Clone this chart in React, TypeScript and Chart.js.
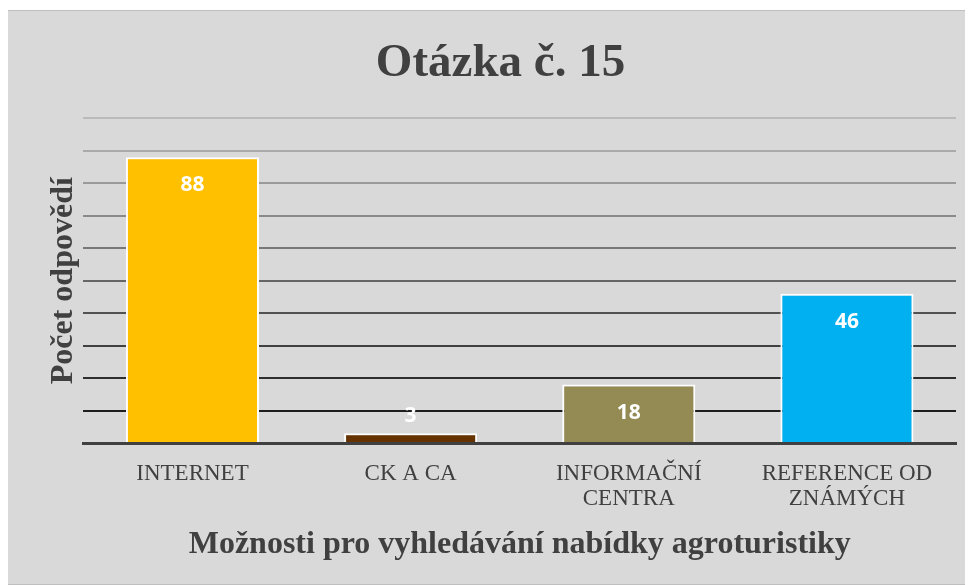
import React, { useEffect, useRef } from "react";
import { Chart, registerables } from "chart.js";

Chart.register(...registerables);

const categories: string[][] = [
  ["INTERNET"],
  ["CK A CA"],
  ["INFORMAČNÍ", "CENTRA"],
  ["REFERENCE OD", "ZNÁMÝCH"],
];
const values: number[] = [88, 3, 18, 46];
const barColors: string[] = ["#ffc000", "#663300", "#948a54", "#00b0f0"];
const chartTitle = "Otázka č. 15";
const yTitle = "Počet odpovědí";
const xTitle = "Možnosti pro vyhledávání nabídky agroturistiky";
const yMin = 0;
const yMax = 100;
const yStep = 10;

const gridColors: Record<number, string> = {
  0: "rgba(0,0,0,0)",
  10: "#1e1e1e",
  20: "#2e2e2e",
  30: "#404040",
  40: "#525252",
  50: "#666666",
  60: "#787878",
  70: "#8a8a8a",
  80: "#9a9a9a",
  90: "#aaaaaa",
  100: "#bababa",
};

const valueLabels = {
  id: "valueLabels",
  afterDatasetsDraw(chart: any) {
    const ctx = chart.ctx;
    const meta = chart.getDatasetMeta(0);
    ctx.save();
    ctx.font = "bold 21px 'Open Sans', Lato, sans-serif";
    ctx.fillStyle = "#ffffff";
    ctx.textAlign = "center";
    ctx.textBaseline = "middle";
    meta.data.forEach((bar: any, i: number) => {
      const h = bar.base - bar.y;
      const y = h < 50 ? bar.y - 17 : bar.y + 28;
      ctx.fillText(String(values[i]), bar.x, y);
    });
    ctx.restore();
  },
};

export default function App() {
  const ref = useRef<HTMLCanvasElement | null>(null);
  useEffect(() => {
    if (!ref.current) return;
    const chart = new Chart(ref.current, {
      type: "bar",
      data: {
        labels: categories,
        datasets: [
          {
            data: values,
            backgroundColor: barColors,
            borderColor: "#ffffff",
            borderWidth: 2,
            borderSkipped: "bottom",
            barPercentage: 0.61,
            categoryPercentage: 1,
          },
        ],
      },
      options: {
        animation: false,
        responsive: false,
        maintainAspectRatio: false,
        layout: { padding: { left: 40, right: 16, top: 0, bottom: 0 } },
        plugins: {
          legend: { display: false },
          tooltip: { enabled: false },
          title: {
            display: true,
            text: chartTitle,
            color: "#404040",
            font: { family: "'Liberation Serif', 'Times New Roman', serif", size: 47, weight: "bold", lineHeight: 1.2 },
            padding: { top: 25, bottom: 26 },
          },
        },
        scales: {
          x: {
            grid: { display: false, drawTicks: false },
            border: { display: true, color: "#404040", width: 3 },
            ticks: {
              color: "#404040",
              padding: 18,
              maxRotation: 0,
              autoSkip: false,
              font: { family: "'Liberation Serif', 'Times New Roman', serif", size: 23, lineHeight: 1.1 },
            },
            title: {
              display: true,
              text: xTitle,
              color: "#404040",
              font: { family: "'Liberation Serif', 'Times New Roman', serif", size: 32, weight: "bold", lineHeight: 1.2 },
              padding: { top: -4, bottom: 20 },
            },
          },
          y: {
            min: yMin,
            max: yMax,
            border: { display: false },
            grid: {
              drawTicks: false,
              lineWidth: 2,
              color: (c: any) => gridColors[c.tick?.value] ?? "#888888",
            },
            ticks: { display: false, stepSize: yStep },
            title: {
              display: true,
              text: yTitle,
              color: "#404040",
              font: { family: "'Liberation Serif', 'Times New Roman', serif", size: 32, weight: "bold", lineHeight: 1.2 },
              padding: { top: 0, bottom: 0 },
            },
          },
        },
      },
      plugins: [valueLabels],
    });
    return () => chart.destroy();
  }, []);
  return (
    <div
      style={{
        marginLeft: -4,
        marginTop: 2,
        width: 969,
        height: 575,
        border: "1px solid #bfbfbf",
        background: "#d9d9d9",
        boxSizing: "border-box",
      }}
    >
      <canvas ref={ref} width={967} height={573} style={{ display: "block" }} />
    </div>
  );
}
